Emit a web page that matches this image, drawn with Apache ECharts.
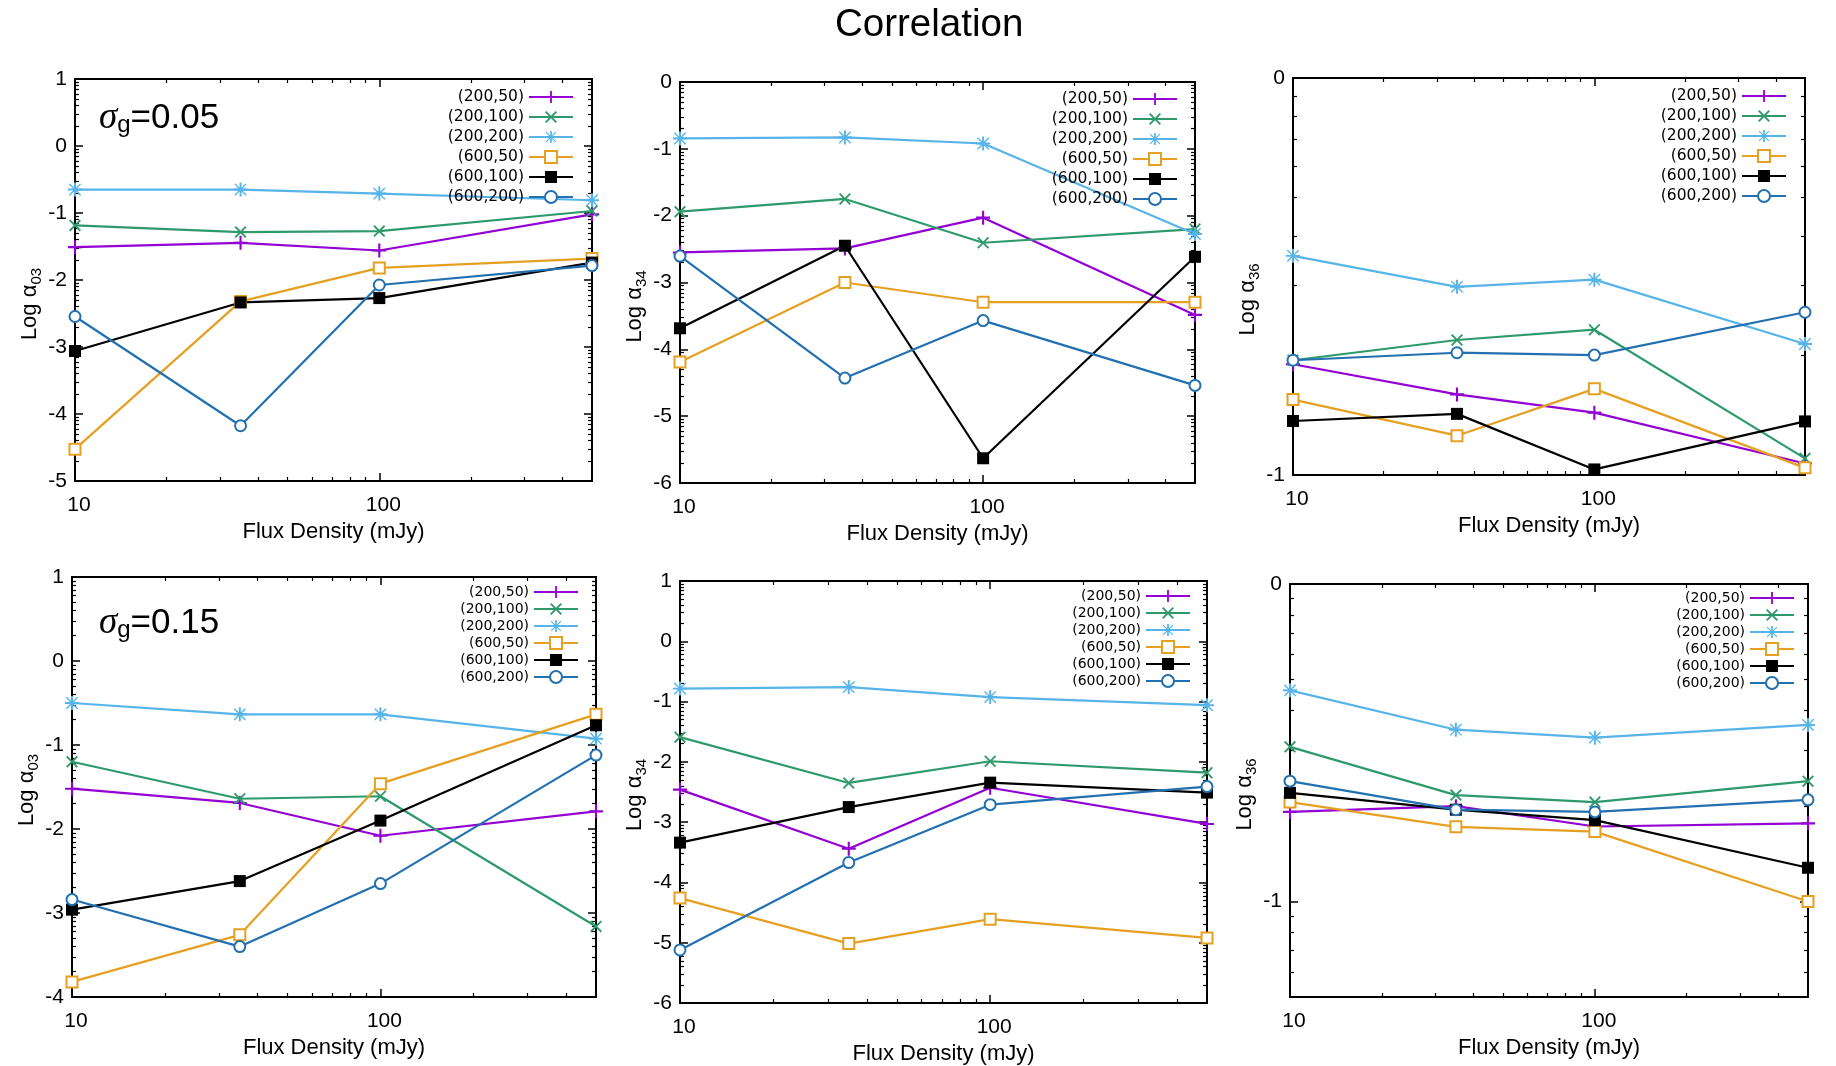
<!DOCTYPE html>
<html><head><meta charset="utf-8">
<script src="https://cdn.jsdelivr.net/npm/echarts@6/dist/echarts.min.js"></script>
<style>html,body{margin:0;padding:0;background:#fff}#c{width:1836px;height:1066px}</style>
</head><body><div id="c"></div>
<script>
// ---------------- data ----------------
const fluxDensity = [10, 35, 100, 500];           // mJy (x, log axis)
const xRange = [10, 500];
const xTickLabels = [10, 100];
const seriesNames = ['(200,50)', '(200,100)', '(200,200)', '(600,50)', '(600,100)', '(600,200)'];

// log10(alpha) per series (rows follow seriesNames, columns follow fluxDensity)
const logA03_s005 = [
  [-1.51, -1.445, -1.56, -1.02],
  [-1.185, -1.285, -1.27, -0.97],
  [-0.65, -0.65, -0.71, -0.81],
  [-4.525, -2.32, -1.82, -1.68],
  [-3.06, -2.335, -2.27, -1.74],
  [-2.545, -4.175, -2.075, -1.785]
];
const logA34_s005 = [
  [-2.55, -2.49, -2.03, -3.485],
  [-1.94, -1.75, -2.405, -2.2],
  [-0.845, -0.83, -0.92, -2.275],
  [-4.19, -3.0, -3.295, -3.295],
  [-3.685, -2.45, -5.63, -2.615],
  [-2.605, -4.43, -3.57, -4.54]
];
const logA36_s005 = [
  [-0.721, -0.797, -0.843, -0.971],
  [-0.711, -0.660, -0.634, -0.958],
  [-0.448, -0.526, -0.508, -0.670],
  [-0.810, -0.901, -0.783, -0.982],
  [-0.864, -0.846, -0.986, -0.865],
  [-0.711, -0.692, -0.698, -0.590]
];
const logA03_s015 = [
  [-1.52, -1.69, -2.08, -1.79],
  [-1.2, -1.64, -1.61, -3.16],
  [-0.5, -0.635, -0.635, -0.925],
  [-3.82, -3.26, -1.46, -0.635],
  [-2.96, -2.62, -1.9, -0.765],
  [-2.84, -3.4, -2.65, -1.12]
];
const logA34_s015 = [
  [-2.46, -3.44, -2.43, -3.03],
  [-1.59, -2.35, -1.99, -2.18],
  [-0.785, -0.76, -0.925, -1.06],
  [-4.26, -5.015, -4.61, -4.92],
  [-3.34, -2.75, -2.345, -2.51],
  [-5.12, -3.67, -2.71, -2.41]
];
const logA36_s015 = [
  [-0.718, -0.70, -0.764, -0.754],
  [-0.513, -0.665, -0.687, -0.621],
  [-0.335, -0.459, -0.484, -0.444],
  [-0.687, -0.765, -0.780, -1.0],
  [-0.658, -0.711, -0.744, -0.894],
  [-0.621, -0.711, -0.718, -0.680]
];

// y tick labels (log10 alpha) and y ranges per panel
const yTicks_a03_s005 = [-5, -4, -3, -2, -1, 0, 1];
const yTicks_a34_s005 = [-6, -5, -4, -3, -2, -1, 0];
const yTicks_a36_s005 = [-1, 0];
const yTicks_a03_s015 = [-4, -3, -2, -1, 0, 1];
const yTicks_a34_s015 = [-6, -5, -4, -3, -2, -1, 0, 1];
const yTicks_a36_s015 = [-1, 0];
const yRange_a03_s005 = [-5, 1];
const yRange_a34_s005 = [-6, 0];
const yRange_a36_s005 = [-1, 0];
const yRange_a03_s015 = [-4, 1];
const yRange_a34_s015 = [-6, 1];
const yRange_a36_s015 = [-1.30103, 0];
const sigmaLabels = ['0.05', '0.15'];

// ---------------- build ----------------
const FONT = '"Liberation Sans", Arial, Helvetica, sans-serif';
const L10 = Math.log10;

function logMinor(min, max) {
  const out = [];
  for (let n = Math.floor(min) - 1; n <= Math.ceil(max); n++) {
    for (let k = 2; k <= 9; k++) {
      const v = n + L10(k);
      if (v > min + 1e-6 && v < max - 1e-6) out.push(v);
    }
  }
  return out;
}

const PLUS = 'path://M4.25,0H5.75V4.25H10V5.75H5.75V10H4.25V5.75H0V4.25H4.25Z';
const CROSS = 'path://M0,1.1L1.1,0L5,3.9L8.9,0L10,1.1L6.1,5L10,8.9L8.9,10L5,6.1L1.1,10L0,8.9L3.9,5Z';
const STAR = 'path://M4.3,0H5.7V4.3H10V5.7H5.7V10H4.3V5.7H0V4.3H4.3ZM0.6,1.3L1.3,0.6L5,4.3L8.7,0.6L9.4,1.3L5.7,5L9.4,8.7L8.7,9.4L5,5.7L1.3,9.4L0.6,8.7L4.3,5Z';

const styles = [
  { color: '#9400D3', symbol: PLUS, size: 14 },
  { color: '#2E9A6C', symbol: CROSS, size: 12 },
  { color: '#56B4E9', symbol: STAR, size: 14 },
  { color: '#E6A021', symbol: 'emptyRect', size: 11, empty: true },
  { color: '#000000', symbol: 'rect', size: 12 },
  { color: '#2270B0', symbol: 'emptyCircle', size: 11, empty: true }
];

const panels = [
  { data: logA03_s005, yTicks: yTicks_a03_s005, yRange: yRange_a03_s005, sub: '03', sigma: sigmaLabels[0], nameShift: 48,
    grid: { left: 75, top: 79, width: 517, height: 402 }, lg: { right: 1262, top: 89, fs: 15.5, gap: 4 }, sg: { left: 99, top: 99 } },
  { data: logA34_s005, yTicks: yTicks_a34_s005, yRange: yRange_a34_s005, sub: '34', nameShift: 48,
    grid: { left: 680, top: 82, width: 515, height: 401 }, lg: { right: 658, top: 91, fs: 15.5, gap: 4 } },
  { data: logA36_s005, yTicks: yTicks_a36_s005, yRange: yRange_a36_s005, sub: '36', nameShift: 46,
    grid: { left: 1293, top: 78, width: 512, height: 397 }, lg: { right: 49, top: 88, fs: 15.5, gap: 4 } },
  { data: logA03_s015, yTicks: yTicks_a03_s015, yRange: yRange_a03_s015, sub: '03', sigma: sigmaLabels[1], nameShift: 6,
    grid: { left: 72, top: 577, width: 524, height: 420 }, lg: { right: 1257, top: 585, fs: 14, gap: 3 }, sg: { left: 99, top: 604 } },
  { data: logA34_s015, yTicks: yTicks_a34_s015, yRange: yRange_a34_s015, sub: '34', nameShift: 6,
    grid: { left: 680, top: 581, width: 527, height: 422 }, lg: { right: 645, top: 589, fs: 14, gap: 3 } },
  { data: logA36_s015, yTicks: yTicks_a36_s015, yRange: yRange_a36_s015, sub: '36', nameShift: 8,
    grid: { left: 1290, top: 584, width: 518, height: 413 }, lg: { right: 41, top: 591, fs: 14, gap: 3 } }
];

const grids = [], xAxes = [], yAxes = [], series = [], legends = [];
const titles = [{
  text: 'Correlation', left: 835, top: 6, padding: 0,
  textStyle: { fontFamily: FONT, fontSize: 38.5, fontWeight: 'normal', color: '#000' }
}];

const xMin = L10(xRange[0]), xMax = L10(xRange[1]);
const xMajor = xTickLabels.map(L10);
const xMinor = logMinor(xMin, xMax);
const tickMajor = vals => ({ show: true, inside: true, length: 8, customValues: vals, lineStyle: { color: '#000', width: 1.5 } });
const tickMinor = vals => ({ show: true, inside: true, length: 4, customValues: vals, lineStyle: { color: '#000', width: 1.2 } });
const noLine = { show: false, onZero: false };

panels.forEach((p, gi) => {
  grids.push(Object.assign({}, p.grid, { show: true, borderColor: '#000', borderWidth: 2, backgroundColor: 'transparent' }));

  const xb = { gridIndex: gi, type: 'value', min: xMin, max: xMax, splitLine: { show: false }, axisLine: noLine };
  xAxes.push(Object.assign({}, xb, {
    position: 'bottom', axisTick: tickMajor(xMajor),
    axisLabel: { customValues: xMajor, formatter: v => String(Math.round(Math.pow(10, v))), margin: 14,
      padding: [0, 0, 0, 8], fontSize: 21, fontFamily: FONT, color: '#000' },
    name: 'Flux Density (mJy)', nameLocation: 'middle', nameGap: 40,
    nameTextStyle: { fontSize: 22, fontFamily: FONT, color: '#000' }
  }));
  xAxes.push(Object.assign({}, xb, { position: 'bottom', axisTick: tickMinor(xMinor), axisLabel: { show: false } }));
  xAxes.push(Object.assign({}, xb, { position: 'top', axisTick: tickMajor(xMajor), axisLabel: { show: false } }));
  xAxes.push(Object.assign({}, xb, { position: 'top', axisTick: tickMinor(xMinor), axisLabel: { show: false } }));

  const yMin = p.yRange[0], yMax = p.yRange[1];
  const yMinor = logMinor(yMin, yMax);
  const yb = { gridIndex: gi, type: 'value', min: yMin, max: yMax, splitLine: { show: false }, axisLine: noLine };
  yAxes.push(Object.assign({}, yb, {
    position: 'left', axisTick: tickMajor(p.yTicks),
    axisLabel: { customValues: p.yTicks, formatter: v => String(Math.round(v)), margin: 8,
      fontSize: 21, fontFamily: FONT, color: '#000' },
    name: 'Log α{sub|' + p.sub + '}', nameLocation: 'middle', nameRotate: 90, nameGap: 25,
    nameTextStyle: { fontSize: 22, lineHeight: 28, fontFamily: FONT, color: '#000', padding: [0, p.nameShift, 0, 0],
      rich: { sub: { fontSize: 15, lineHeight: 15, verticalAlign: 'bottom', fontFamily: FONT, color: '#000' } } }
  }));
  yAxes.push(Object.assign({}, yb, { position: 'left', axisTick: tickMinor(yMinor), axisLabel: { show: false } }));
  yAxes.push(Object.assign({}, yb, { position: 'right', axisTick: tickMajor(p.yTicks), axisLabel: { show: false } }));
  yAxes.push(Object.assign({}, yb, { position: 'right', axisTick: tickMinor(yMinor), axisLabel: { show: false } }));

  p.data.forEach((row, si) => {
    const st = styles[si];
    series.push({
      type: 'line', name: seriesNames[si], xAxisIndex: gi * 4, yAxisIndex: gi * 4,
      data: fluxDensity.map((f, i) => [L10(f), row[i]]),
      symbol: st.symbol, symbolSize: st.size, showSymbol: true, clip: false,
      lineStyle: { color: st.color, width: 2.2 },
      itemStyle: { color: st.color, borderColor: st.color, borderWidth: st.empty ? 2 : 0 },
      emphasis: { disabled: true }
    });
  });

  legends.push({
    orient: 'vertical', align: 'right', right: p.lg.right, top: p.lg.top, padding: 0,
    itemWidth: 44, itemHeight: 15, itemGap: p.lg.gap, selectedMode: false, data: seriesNames,
    textStyle: { fontFamily: '"DejaVu Sans", sans-serif', fontSize: p.lg.fs, color: '#000' }
  });

  if (p.sigma) {
    titles.push({
      text: '{s|σ}{g|g}{t|=' + p.sigma + '}', left: p.sg.left, top: p.sg.top, padding: 0,
      textStyle: { fontWeight: 'normal', rich: {
        s: { fontFamily: '"Liberation Serif", serif', fontStyle: 'italic', fontWeight: 'normal', fontSize: 37, lineHeight: 38, color: '#000' },
        g: { fontFamily: FONT, fontWeight: 'normal', fontSize: 24, lineHeight: 24, verticalAlign: 'bottom', color: '#000' },
        t: { fontFamily: FONT, fontWeight: 'normal', fontSize: 35, lineHeight: 38, color: '#000' }
      } }
    });
  }
});

const chart = echarts.init(document.getElementById('c'), null, { renderer: 'canvas' });
chart.setOption({
  animation: false, backgroundColor: '#fff',
  title: titles, grid: grids, xAxis: xAxes, yAxis: yAxes, legend: legends, series: series
});
</script></body></html>
